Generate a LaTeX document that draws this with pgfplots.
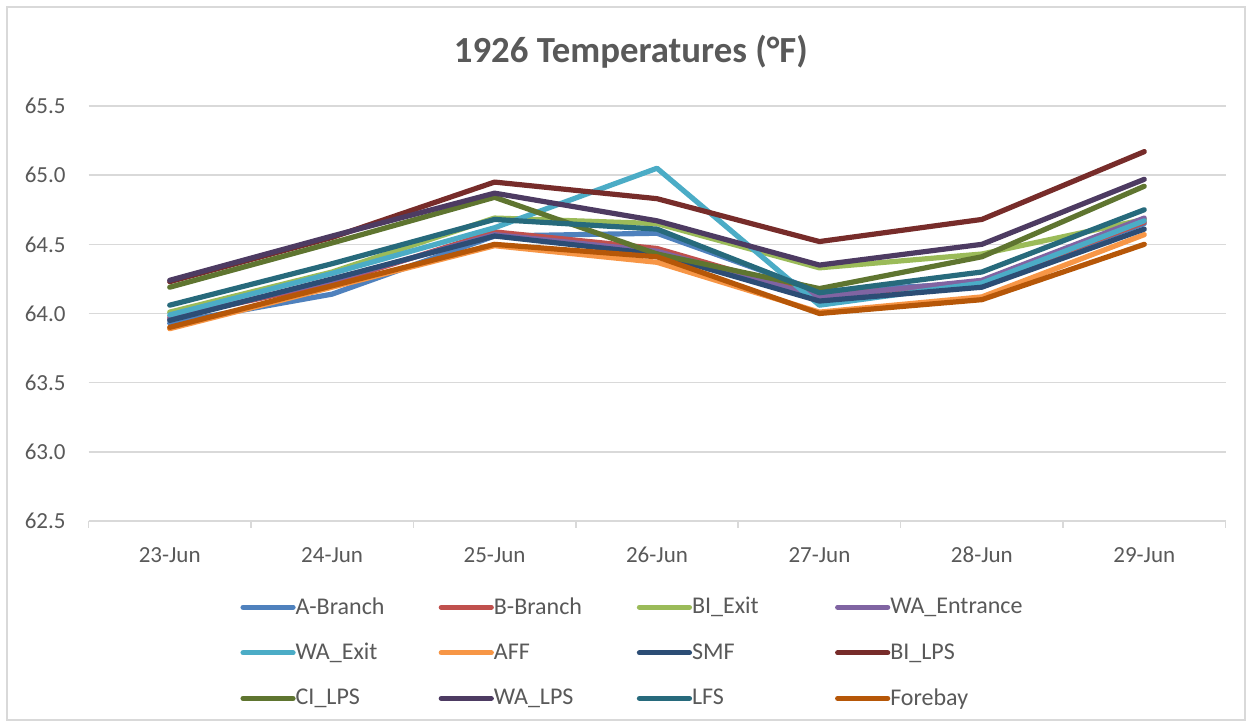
\documentclass[border=0pt]{standalone}
\usepackage{pgfplots}
\pgfplotsset{compat=1.18}
\usepackage{fontspec}
\setmainfont{Carlito}
\definecolor{txt}{HTML}{595959}
\definecolor{gridc}{HTML}{D9D9D9}
\definecolor{cA}{HTML}{4F81BD}
\definecolor{cB}{HTML}{C0504D}
\definecolor{cBIE}{HTML}{9BBB59}
\definecolor{cWAEn}{HTML}{8064A2}
\definecolor{cWAEx}{HTML}{4BACC6}
\definecolor{cAFF}{HTML}{F79646}
\definecolor{cSMF}{HTML}{2C4D75}
\definecolor{cBIL}{HTML}{772C2A}
\definecolor{cCIL}{HTML}{5F7530}
\definecolor{cWAL}{HTML}{4D3B62}
\definecolor{cLFS}{HTML}{276A7C}
\definecolor{cFB}{HTML}{B65708}
\begin{document}
\begin{tikzpicture}
\useasboundingbox (-44.25pt,-103pt) rectangle (581.75pt,260.5pt);
\fill[white] (-44.25pt,-103pt) rectangle (581.75pt,260.5pt);
\draw[gridc, line width=0.75pt] (-40.75pt,-99.5pt) rectangle (578.25pt,257pt);
\begin{axis}[
  at={(0pt,0pt)}, anchor=south west, scale only axis,
  width=568.5pt, height=207.5pt,
  xmin=-0.5, xmax=6.5, ymin=62.5, ymax=65.5,
  clip=false,
  xtick={0,1,2,3,4,5,6},
  xticklabels={23-Jun,24-Jun,25-Jun,26-Jun,27-Jun,28-Jun,29-Jun},
  minor xtick={-0.5,0.5,1.5,2.5,3.5,4.5,5.5,6.5},
  ytick={62.5,63,63.5,64,64.5,65,65.5},
  ymajorgrids, major grid style={gridc, line width=0.75pt},
  axis x line*=bottom, axis y line*=left,
  x axis line style={gridc, line width=0.75pt, -},
  y axis line style={draw=none},
  major tick length=0pt, minor tick length=3.5pt,
  tick align=outside,
  minor tick style={gridc, line width=0.75pt},
  major tick style={draw=none},
  tick label style={font=\fontsize{11.5}{13.8}\selectfont, text=txt},
  /pgf/number format/assume math mode=true,
  yticklabel style={/pgf/number format/fixed, /pgf/number format/fixed zerofill, /pgf/number format/precision=1, anchor=east, inner sep=0pt, xshift=-11.25pt},
  xticklabel style={anchor=base, inner sep=0pt, yshift=-20.5pt},
  title={1926 Temperatures (°F)},
  title style={at={(axis description cs:0.477,1.101)}, anchor=center, yshift=0pt, font=\bfseries\fontsize{18.4}{22}\selectfont, text=txt},
  every axis plot/.append style={line width=2.6pt, line cap=round, line join=round},
  legend columns=4,
  legend cell align=left,
  legend style={draw=none, fill=none, at={(axis description cs:0.1333,-0.1831)}, anchor=north west, inner sep=0pt, font=\fontsize{12}{14.4}\selectfont, text=txt, row sep=13pt, nodes={inner sep=0pt}, /tikz/every even column/.append style={column sep=3.5pt}},
  legend image code/.code={\draw[#1, line cap=round] (1.25pt,0pt) -- (26.25pt,0pt);},
]
\addplot[color=cA] coordinates {(0,63.93) (1,64.14) (2,64.56) (3,64.58) (4,64.16) (5,64.22) (6,64.65)};
\addlegendentry{\makebox[68pt][l]{A-Branch}}
\addplot[color=cB] coordinates {(0,63.97) (1,64.22) (2,64.59) (3,64.47) (4,64.13) (5,64.22) (6,64.66)};
\addlegendentry{\makebox[68pt][l]{B-Branch}}
\addplot[color=cBIE] coordinates {(0,64.01) (1,64.30) (2,64.69) (3,64.65) (4,64.33) (5,64.43) (6,64.68)};
\addlegendentry{\makebox[68pt][l]{BI\_Exit}}
\addplot[color=cWAEn] coordinates {(0,63.96) (1,64.24) (2,64.57) (3,64.45) (4,64.12) (5,64.24) (6,64.69)};
\addlegendentry{\makebox[68pt][l]{WA\_Entrance}}
\addplot[color=cWAEx] coordinates {(0,63.99) (1,64.29) (2,64.62) (3,65.05) (4,64.06) (5,64.22) (6,64.67)};
\addlegendentry{\makebox[68pt][l]{WA\_Exit}}
\addplot[color=cAFF] coordinates {(0,63.89) (1,64.19) (2,64.49) (3,64.37) (4,64.01) (5,64.12) (6,64.57)};
\addlegendentry{\makebox[68pt][l]{AFF}}
\addplot[color=cSMF] coordinates {(0,63.95) (1,64.25) (2,64.56) (3,64.43) (4,64.09) (5,64.19) (6,64.61)};
\addlegendentry{\makebox[68pt][l]{SMF}}
\addplot[color=cBIL] coordinates {(0,64.23) (1,64.55) (2,64.95) (3,64.83) (4,64.52) (5,64.68) (6,65.17)};
\addlegendentry{\makebox[68pt][l]{BI\_LPS}}
\addplot[color=cCIL] coordinates {(0,64.19) (1,64.51) (2,64.84) (3,64.43) (4,64.18) (5,64.41) (6,64.92)};
\addlegendentry{\makebox[68pt][l]{CI\_LPS}}
\addplot[color=cWAL] coordinates {(0,64.24) (1,64.56) (2,64.87) (3,64.67) (4,64.35) (5,64.50) (6,64.97)};
\addlegendentry{\makebox[68pt][l]{WA\_LPS}}
\addplot[color=cLFS] coordinates {(0,64.06) (1,64.36) (2,64.68) (3,64.61) (4,64.15) (5,64.30) (6,64.75)};
\addlegendentry{\makebox[68pt][l]{LFS}}
\addplot[color=cFB] coordinates {(0,63.90) (1,64.20) (2,64.50) (3,64.41) (4,64.00) (5,64.10) (6,64.50)};
\addlegendentry{\makebox[68pt][l]{Forebay}}
\end{axis}
\end{tikzpicture}
\end{document}
